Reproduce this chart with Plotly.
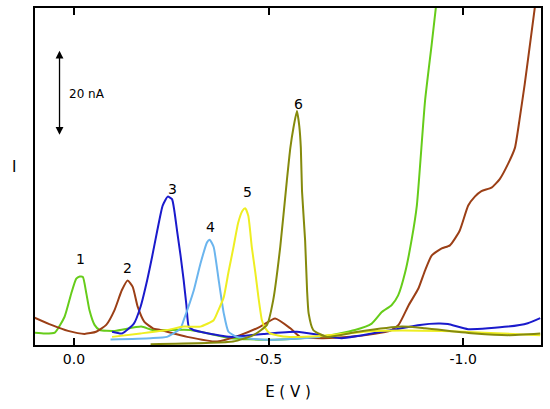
import plotly.graph_objects as go

# potential (V) and current (nA above baseline)
e1 = [0.101, 0.075, 0.049, 0.024, 0.007, -0.006, -0.015, -0.023, -0.032, -0.040, -0.053, -0.066,
      -0.105, -0.173, -0.202, -0.299, -0.402, -0.504, -0.633, -0.722, -0.765, -0.791, -0.816, -0.833,
      -0.851, -0.868, -0.881, -0.902, -0.919, -0.933]
i1 = [2.9, 2.7, 2.9, 6.6, 12.0, 15.5, 16.0, 15.9, 12.0, 8.1, 4.7, 3.5,
      3.3, 4.3, 3.5, 3.5, 1.6, 1.2, 1.9, 3.5, 5.0, 7.7, 9.3, 11.6,
      17.0, 24.8, 32.6, 57.0, 70.2, 81.4]

e2 = [0.101, 0.058, 0.015, -0.027, -0.057, -0.083, -0.104, -0.123, -0.138, -0.151, -0.164, -0.181,
      -0.203, -0.222, -0.291, -0.368, -0.427, -0.479, -0.517, -0.556, -0.581, -0.637, -0.710, -0.773,
      -0.812, -0.834, -0.860, -0.885, -0.902, -0.919, -0.945, -0.966, -0.991, -1.013, -1.030, -1.047,
      -1.073, -1.094, -1.115, -1.133, -1.145, -1.158, -1.175, -1.186]
i2 = [6.4, 4.7, 3.3, 2.6, 3.1, 4.7, 8.1, 12.8, 15.1, 13.6, 8.9, 5.4,
      3.9, 3.5, 1.9, 0.8, 2.3, 4.3, 6.2, 3.9, 1.9, 1.6, 1.9, 2.6,
      3.3, 4.7, 9.3, 13.2, 17.4, 20.9, 22.6, 23.3, 26.7, 32.6, 34.7, 36.0,
      36.8, 38.8, 42.3, 46.1, 52.8, 60.9, 72.6, 80.2]

e3 = [-0.098, -0.124, -0.154, -0.171, -0.188, -0.201, -0.214, -0.228, -0.241, -0.252, -0.258, -0.265,
      -0.274, -0.282, -0.289, -0.295, -0.307, -0.325, -0.402, -0.487, -0.573, -0.633, -0.688, -0.816,
      -0.889, -0.936, -0.961, -1.013, -1.115, -1.166, -1.198]
i3 = [3.1, 2.7, 5.0, 8.9, 15.1, 20.7, 26.7, 32.6, 34.7, 34.1, 31.4, 26.7,
      20.9, 15.1, 9.3, 4.3, 3.5, 3.1, 1.9, 2.6, 3.1, 2.3, 1.6, 3.5,
      4.7, 5.0, 4.9, 3.7, 4.3, 5.1, 6.3]

e4 = [-0.094, -0.197, -0.239, -0.274, -0.282, -0.308, -0.325, -0.342, -0.349, -0.359, -0.372, -0.385,
      -0.397, -0.419, -0.496, -0.581, -0.633]
i4 = [1.3, 1.6, 1.9, 3.9, 5.8, 12.8, 19.0, 24.0, 24.6, 22.9, 15.1, 7.4,
      3.1, 1.9, 1.2, 1.5, 1.9]

e5 = [-0.098, -0.171, -0.239, -0.282, -0.325, -0.359, -0.371, -0.385, -0.397, -0.410, -0.422, -0.433,
      -0.440, -0.448, -0.457, -0.466, -0.474, -0.483, -0.491, -0.504, -0.547, -0.633, -0.773, -0.945,
      -1.198]
i5 = [1.9, 2.7, 3.5, 4.3, 4.3, 5.8, 8.1, 11.2, 17.0, 22.9, 28.6, 31.4,
      32.0, 30.2, 22.9, 17.0, 11.2, 5.8, 4.0, 2.7, 1.9, 2.1, 3.3, 3.3,
      2.3]

e6 = [-0.197, -0.409, -0.461, -0.496, -0.512, -0.530, -0.547, -0.556, -0.564, -0.573, -0.579, -0.583,
      -0.586, -0.594, -0.599, -0.603, -0.615, -0.650, -0.730, -0.842, -0.902, -1.030, -1.115, -1.198]
i6 = [0.2, 0.8, 2.3, 4.7, 10.5, 22.9, 38.4, 46.1, 50.8, 54.7, 51.2, 46.1,
      36.0, 24.4, 12.8, 7.4, 3.5, 1.9, 3.1, 4.3, 3.9, 2.7, 2.3, 2.7]

peak_names = ['1', '2', '3', '4', '5', '6']
peak_e = [-0.017, -0.137, -0.253, -0.351, -0.445, -0.576]
peak_i = [20.0, 18.1, 36.5, 27.7, 35.8, 56.3]

tick_vals = [0.0, -0.5, -1.0]
tick_text = ['0.0', '-0.5', '-1.0']

scale_e = 0.037
scale_lo = 48.8
scale_hi = 68.8

series = [
    (e1, i1, '#66CC1A'),
    (e2, i2, '#9B3F16'),
    (e3, i3, '#1A1ACC'),
    (e4, i4, '#6BB5EE'),
    (e5, i5, '#EEEE22'),
    (e6, i6, '#858A0C'),
]

font = 'DejaVu Sans'

fig = go.Figure()

for e, i, c in series:
    fig.add_trace(go.Scatter(x=e, y=i, mode='lines', showlegend=False,
                             line=dict(color=c, width=2, shape='spline', smoothing=0.5)))

for name, x, y in zip(peak_names, peak_e, peak_i):
    fig.add_annotation(x=x, y=y, text=name, showarrow=False, font=dict(size=14, color='black', family=font))

# 20 nA scale bar
fig.add_annotation(x=scale_e, y=scale_hi, ax=scale_e, ay=scale_lo, xref='x', yref='y', axref='x', ayref='y',
                   text='', showarrow=True, arrowhead=2, arrowside='end+start', arrowsize=1.2,
                   arrowwidth=1.3, arrowcolor='black')
fig.add_annotation(x=scale_e - 0.018, y=(scale_lo + scale_hi) / 2, text='20 nA', showarrow=False,
                   xanchor='left', font=dict(size=12, color='black', family=font))

fig.add_annotation(xref='paper', yref='paper', x=-0.05, y=0.528, text='I', showarrow=False,
                   font=dict(size=15, color='black', family=font))

fig.update_layout(
    width=550, height=409,
    margin=dict(l=35, r=9, t=6, b=64),
    plot_bgcolor='white', paper_bgcolor='white',
    font=dict(family=font, size=14, color='black'),
    xaxis=dict(
        range=[0.1, -1.2],
        tickvals=tick_vals, ticktext=tick_text,
        ticks='inside', ticklen=7, tickwidth=1.5, tickcolor='black',
        showline=True, linecolor='black', linewidth=1.5, mirror='ticks',
        showgrid=False, zeroline=False,
        title=dict(text='E ( V )', standoff=21, font=dict(size=15)),
    ),
    yaxis=dict(
        range=[0, 78.8],
        showticklabels=False, ticks='',
        showline=True, linecolor='black', linewidth=1.5, mirror=True,
        showgrid=False, zeroline=False,
    ),
)

# drop the default page margin so the figure sits at the window corner
fig.write_html('out.html', config={'displayModeBar': False},
               post_script="document.body.style.margin='0';")
